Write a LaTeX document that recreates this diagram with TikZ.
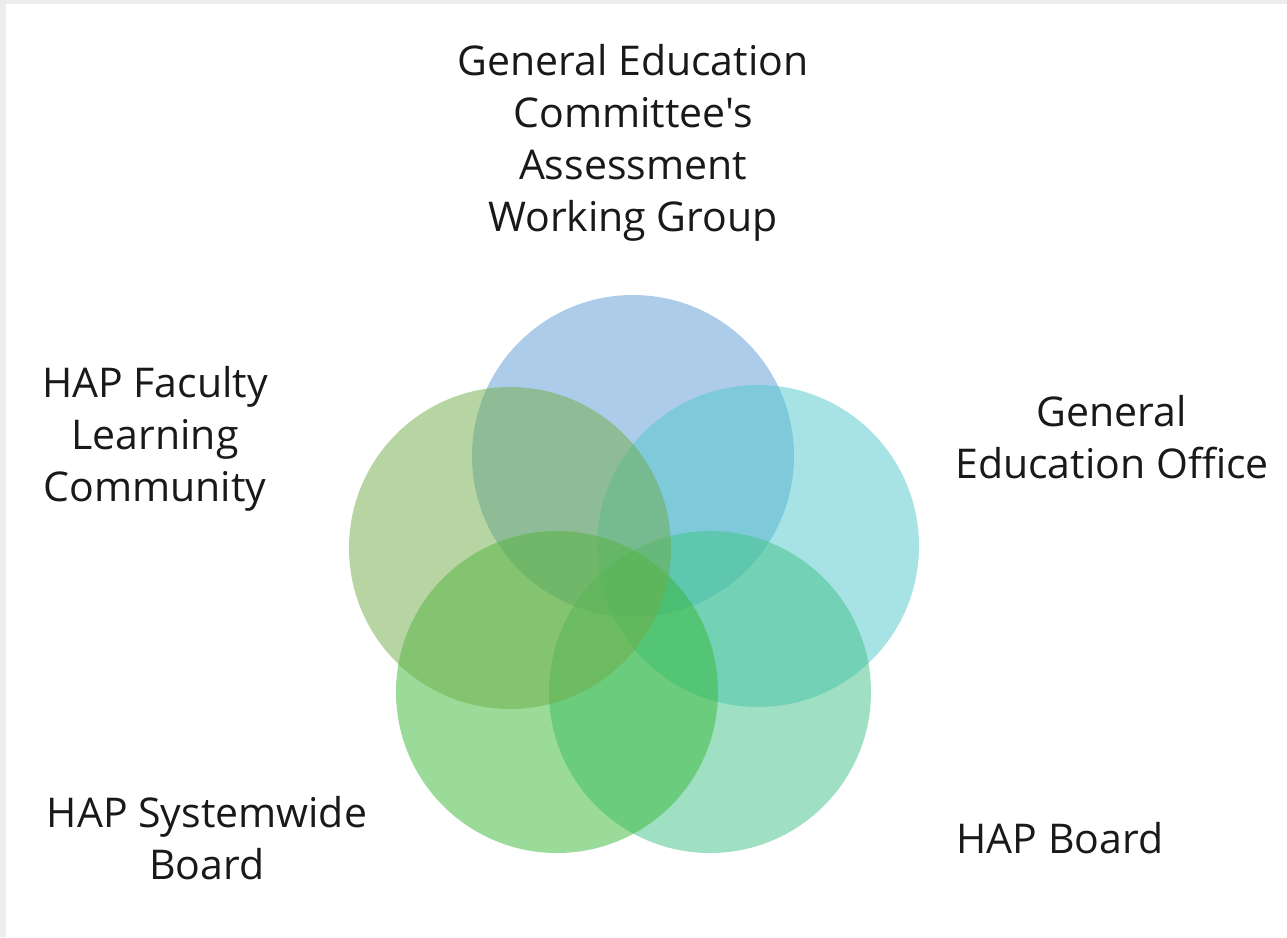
\documentclass[tikz,border=0pt]{standalone}
\usepackage{fontspec}
\setmainfont{Open Sans}[Ligatures=TeXOff]
\begin{document}
\begin{tikzpicture}[x=1pt,y=-1pt,
  ring/.style={circle,minimum size=322pt,inner sep=0pt,fill opacity=0.5,text opacity=1},
  label/.style={align=center,font=\fontsize{41}{52}\selectfont,text=black!90}]
\definecolor{cblue}{RGB}{91,155,213}
\definecolor{cteal}{RGB}{81,201,205}
\definecolor{cmint}{RGB}{65,195,135}
\definecolor{cgreen}{RGB}{55,185,55}
\definecolor{colive}{RGB}{112,173,71}
% frame and page
\fill[black!7] (0,0) rectangle (1287,937);
\fill[white] (6,4) rectangle (1287,937);
\useasboundingbox (0,0) rectangle (1287,937);
% five overlapping circles
\node[ring,fill=cblue]  (c1) at (633,456) {};
\node[ring,fill=cteal]  (c2) at (758,546) {};
\node[ring,fill=cmint]  (c3) at (710,692) {};
\node[ring,fill=cgreen] (c4) at (557,692) {};
\node[ring,fill=colive] (c5) at (510,548) {};
% labels
\node[label] (t1) at (633,143) {General Education\\Committee's\\Assessment\\Working Group};
\node[label] (t2) at (1112,437) {General\\Education Office};
\node[label] (t3) at (1060,838) {HAP Board};
\node[label] (t4) at (207,838) {HAP Systemwide\\Board};
\node[label] (t5) at (155,439) {HAP Faculty\\Learning\\Community};
\end{tikzpicture}
\end{document}
